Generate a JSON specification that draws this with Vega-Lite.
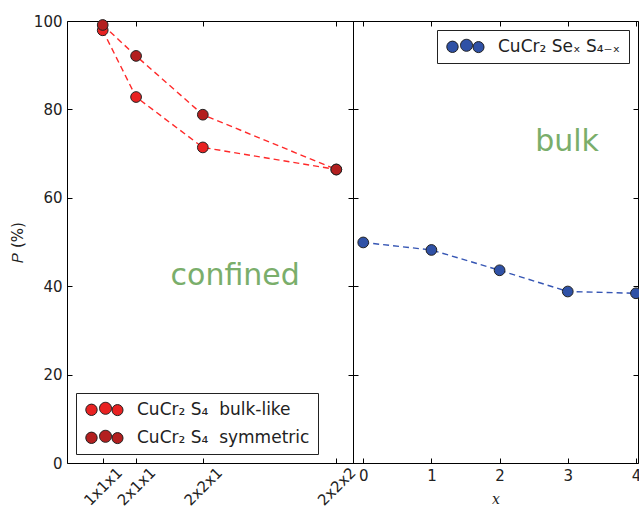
{
  "$schema": "https://vega.github.io/schema/vega-lite/v6.json",
  "padding": {"left": 9, "top": 13, "right": 0, "bottom": 0},
  "bounds": "flush",
  "config": {
    "font": "DejaVu Sans",
    "view": {"stroke": "black", "strokeWidth": 1},
    "axis": {"grid": false, "domain": false, "tickColor": "black", "tickSize": -5, "labelFontSize": 15, "labelColor": "#222", "labelPadding": 10, "titleFontWeight": "normal", "titleFontSize": 15, "titleColor": "#222", "labelOverlap": false, "labelFlush": false},
    "concat": {"spacing": 0},
    "legend": {"title": null, "strokeColor": "#222", "padding": 8, "fillColor": "white", "cornerRadius": 0,
      "symbolType": "M-1.12,0.05a0.95,0.95 0 1,0 1.9,0a0.95,0.95 0 1,0 -1.9,0ZM1.17,-0.2a1,1 0 1,0 2,0a1,1 0 1,0 -2,0ZM3.25,0.1a0.92,0.92 0 1,0 1.84,0a0.92,0.92 0 1,0 -1.84,0Z",
      "symbolSize": 144, "symbolStrokeColor": "#222", "symbolStrokeWidth": 1, "labelFontSize": 17, "labelColor": "#222", "labelOffset": 36, "labelLimit": 400, "offset": 9, "rowPadding": 10}
  },
  "resolve": {"scale": {"fill": "independent", "x": "independent", "y": "independent"}, "legend": {"fill": "independent"}},
  "hconcat": [
    {
      "width": 286, "height": 442,
      "data": {"values": [
        {"cell": "1x1x1", "n": 1, "series": "CuCr₂\u00a0S₄\u00a0\u00a0bulk-like", "P": 97.9},
        {"cell": "2x1x1", "n": 2, "series": "CuCr₂\u00a0S₄\u00a0\u00a0bulk-like", "P": 82.8},
        {"cell": "2x2x1", "n": 4, "series": "CuCr₂\u00a0S₄\u00a0\u00a0bulk-like", "P": 71.4},
        {"cell": "2x2x2", "n": 8, "series": "CuCr₂\u00a0S₄\u00a0\u00a0bulk-like", "P": 66.4},
        {"cell": "1x1x1", "n": 1, "series": "CuCr₂\u00a0S₄\u00a0\u00a0symmetric", "P": 99.1},
        {"cell": "2x1x1", "n": 2, "series": "CuCr₂\u00a0S₄\u00a0\u00a0symmetric", "P": 92.1},
        {"cell": "2x2x1", "n": 4, "series": "CuCr₂\u00a0S₄\u00a0\u00a0symmetric", "P": 78.8},
        {"cell": "2x2x2", "n": 8, "series": "CuCr₂\u00a0S₄\u00a0\u00a0symmetric", "P": 66.4}
      ]},
      "layer": [
        {
          "mark": {"type": "line", "strokeDash": [6, 4], "color": "#ff2a2a", "strokeWidth": 1.4},
          "encoding": {
            "x": {"field": "n", "type": "quantitative", "scale": {"domain": [-0.07, 8.5], "nice": false, "zero": false},
              "axis": {"orient": "bottom", "values": [1, 2, 4, 8], "labelAngle": -45, "labelAlign": "center", "labelBaseline": "middle", "title": null, "labelFontSize": 15, "labelPadding": 28,
                "labelExpr": "datum.value == 1 ? '1x1x1' : datum.value == 2 ? '2x1x1' : datum.value == 4 ? '2x2x1' : '2x2x2'"}},
            "y": {"field": "P", "type": "quantitative", "scale": {"domain": [0, 100], "nice": false},
              "axis": {"orient": "left", "values": [0, 20, 40, 60, 80, 100], "title": "𝑃 (%)", "titlePadding": 8}},
            "detail": {"field": "series"}
          }
        },
        {
          "mark": {"type": "circle", "size": 115, "stroke": "#222", "strokeWidth": 1, "opacity": 1},
          "encoding": {
            "x": {"field": "n", "type": "quantitative", "axis": {"orient": "top", "values": [1, 2, 4, 8], "labels": false, "title": null}},
            "y": {"field": "P", "type": "quantitative", "axis": {"orient": "right", "values": [0, 20, 40, 60, 80, 100], "labels": false, "title": null}},
            "fill": {"field": "series", "type": "nominal",
              "scale": {"domain": ["CuCr₂\u00a0S₄\u00a0\u00a0bulk-like", "CuCr₂\u00a0S₄\u00a0\u00a0symmetric"], "range": ["#e82222", "#b31f1f"]},
              "legend": {"orient": "bottom-left"}}
          }
        },
        {
          "data": {"values": [{"label": "confined"}]},
          "mark": {"type": "text", "fontSize": 30, "color": "#7aae6b", "align": "center", "baseline": "middle"},
          "encoding": {
            "x": {"datum": 4.97, "type": "quantitative", "axis": null},
            "y": {"datum": 42.4, "type": "quantitative", "axis": null},
            "text": {"field": "label"}
          }
        }
      ],
      "resolve": {"axis": {"x": "independent", "y": "independent"}}
    },
    {
      "width": 285, "height": 442,
      "data": {"values": [
        {"x": 0, "series": "CuCr₂\u00a0Seₓ\u00a0S₄₋ₓ", "P": 49.9},
        {"x": 1, "series": "CuCr₂\u00a0Seₓ\u00a0S₄₋ₓ", "P": 48.2},
        {"x": 2, "series": "CuCr₂\u00a0Seₓ\u00a0S₄₋ₓ", "P": 43.6},
        {"x": 3, "series": "CuCr₂\u00a0Seₓ\u00a0S₄₋ₓ", "P": 38.8},
        {"x": 4, "series": "CuCr₂\u00a0Seₓ\u00a0S₄₋ₓ", "P": 38.4}
      ]},
      "layer": [
        {
          "mark": {"type": "line", "strokeDash": [6, 4], "color": "#3656b4", "strokeWidth": 1.4},
          "encoding": {
            "x": {"field": "x", "type": "quantitative", "scale": {"domain": [-0.15, 4.03], "nice": false, "zero": false},
              "axis": {"orient": "bottom", "values": [0, 1, 2, 3, 4], "title": "x", "titleFont": "DejaVu Serif", "titleFontStyle": "italic", "titleFontSize": 14, "titlePadding": 9}},
            "y": {"field": "P", "type": "quantitative", "scale": {"domain": [0, 100], "nice": false},
              "axis": {"orient": "left", "values": [0, 20, 40, 60, 80, 100], "labels": false, "title": null}}
          }
        },
        {
          "mark": {"type": "circle", "size": 115, "stroke": "#222", "strokeWidth": 1, "opacity": 1},
          "encoding": {
            "x": {"field": "x", "type": "quantitative", "axis": {"orient": "top", "values": [0, 1, 2, 3, 4], "labels": false, "title": null}},
            "y": {"field": "P", "type": "quantitative", "axis": {"orient": "right", "values": [0, 20, 40, 60, 80, 100], "labels": false, "title": null}},
            "fill": {"field": "series", "type": "nominal",
              "scale": {"domain": ["CuCr₂\u00a0Seₓ\u00a0S₄₋ₓ"], "range": ["#2f51a6"]},
              "legend": {"orient": "top-right"}}
          }
        },
        {
          "data": {"values": [{"label": "bulk"}]},
          "mark": {"type": "text", "fontSize": 30, "color": "#7aae6b", "align": "center", "baseline": "middle"},
          "encoding": {
            "x": {"datum": 2.99, "type": "quantitative", "axis": null},
            "y": {"datum": 72.6, "type": "quantitative", "axis": null},
            "text": {"field": "label"}
          }
        }
      ],
      "resolve": {"axis": {"x": "independent", "y": "independent"}}
    }
  ]
}
